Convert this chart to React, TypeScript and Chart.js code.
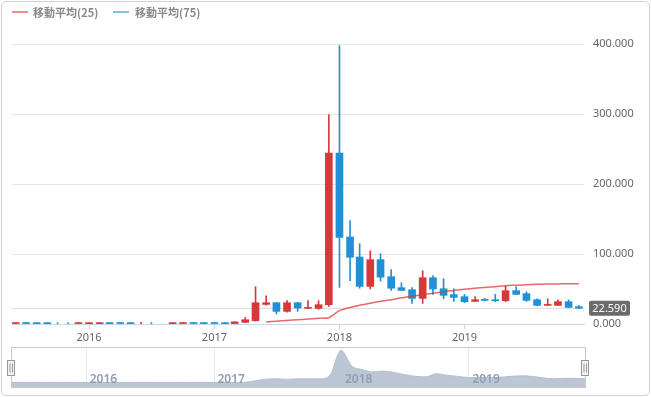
import React, { useEffect, useRef } from 'react';
import { Chart, registerables } from 'chart.js';

Chart.register(...registerables);

// ---- data (units shown with 3 decimals) ----
const months: string[] = [
  '2015-06', '2015-07', '2015-08', '2015-09', '2015-10', '2015-11', '2015-12',
  '2016-01', '2016-02', '2016-03', '2016-04', '2016-05', '2016-06',
  '2016-07', '2016-08', '2016-09', '2016-10', '2016-11', '2016-12',
  '2017-01', '2017-02', '2017-03', '2017-04', '2017-05', '2017-06',
  '2017-07', '2017-08', '2017-09', '2017-10', '2017-11', '2017-12',
  '2018-01', '2018-02', '2018-03', '2018-04', '2018-05', '2018-06',
  '2018-07', '2018-08', '2018-09', '2018-10', '2018-11', '2018-12',
  '2019-01', '2019-02', '2019-03', '2019-04', '2019-05', '2019-06',
  '2019-07', '2019-08', '2019-09', '2019-10', '2019-11', '2019-12',
];

const open: (number | null)[] = [
  0.6, 1.6, 1.5, 1.5, 1.0, 1.0, 0.6,
  0.5, 0.5, 1.6, 1.6, 1.5, 1.0,
  1.0, null, 0.5, 0.6, 1.6, 1.6,
  1.6, 1.5, 0.6, 2.3, 4.7, 28.0,
  30.4, 18.0, 30.4, 22.3, 22.3, 27.6,
  244.3, 124.3, 95.7, 53.7, 91.9, 67.6,
  51.9, 49.0, 36.6, 66.1, 50.4, 41.9,
  39.0, 32.3, 34.7, 34.7, 33.3, 47.6,
  43.3, 34.7, 26.6, 26.6, 31.9, 24.7,
];
const high: (number | null)[] = [
  1.8, 1.8, 1.7, 1.6, 1.4, 1.4, 1.8,
  1.7, 1.8, 1.8, 1.7, 1.6, 2.3,
  2.0, null, 1.8, 1.8, 1.8, 1.7,
  1.8, 1.7, 3.4, 9.4, 53.3, 40.4,
  30.9, 33.3, 31.0, 33.3, 33.3, 299.0,
  397.6, 147.6, 114.7, 104.7, 100.4, 77.6,
  59.0, 51.9, 76.1, 69.0, 64.7, 50.4,
  42.3, 39.0, 36.6, 42.3, 54.3, 53.3,
  46.1, 36.1, 36.1, 34.7, 34.7, 26.6,
];
const low: (number | null)[] = [
  0.5, 0.5, 0.4, 0.4, 0.4, 0.4, 0.5,
  0.4, 0.4, 0.4, 0.4, 0.4, 0.5,
  0.5, null, 0.4, 0.5, 0.5, 0.5,
  0.5, 0.4, 0.5, 2.0, 4.2, 27.0,
  14.3, 17.0, 18.0, 22.0, 20.9, 25.1,
  52.3, 61.9, 51.1, 50.0, 61.1, 48.0,
  47.6, 29.4, 29.4, 42.3, 36.1, 32.3,
  30.4, 32.0, 33.0, 31.9, 31.9, 41.9,
  32.3, 26.1, 26.1, 26.1, 23.3, 21.9,
];
const close: (number | null)[] = [
  1.6, 0.6, 0.5, 0.5, 0.98, 0.98, 1.6,
  1.5, 1.6, 0.5, 0.6, 0.5, 1.02,
  0.98, null, 1.6, 1.6, 0.6, 0.6,
  0.6, 0.5, 3.1, 6.1, 30.4, 30.4,
  18.0, 30.4, 22.9, 23.3, 27.6, 244.3,
  123.7, 95.4, 53.7, 91.9, 66.9, 51.1,
  48.0, 36.6, 66.1, 50.0, 40.9, 38.0,
  31.9, 34.7, 33.7, 33.3, 47.6, 42.3,
  33.7, 26.6, 28.0, 31.9, 23.7, 22.59,
];
const ma25: (number | null)[] = [
  null, null, null, null, null, null, null,
  null, null, null, null, null, null,
  null, null, null, null, null, null,
  null, null, null, null, null, 3.0,
  4.0, 5.0, 6.1, 7.1, 8.1, 9.0,
  19.0, 23.7, 26.9, 29.7, 32.6, 34.7,
  37.6, 39.7, 41.9, 44.0, 46.1, 48.0,
  49.7, 51.1, 52.3, 53.3, 54.7, 55.4,
  56.1, 56.7, 57.0, 57.3, 57.6, 57.6,
];
const ma75: (number | null)[] = [];
const navValues: number[] = [
  1, 1, 1, 1, 1, 1, 1,
  1, 1, 1, 1, 1, 1,
  1, 1, 1, 1, 1, 1,
  1, 1, 1, 2, 14, 27,
  29, 25.5, 29, 29, 29, 60,
  254, 130, 103, 84, 91, 80,
  64, 49, 45, 70, 57, 49,
  39.5, 39.5, 39.5, 41, 49, 52.7,
  49, 37, 29, 33, 33, 29,
];
const yTicks: number[] = [0, 100, 200, 300, 400];
const yearTicks: string[] = ['2016', '2017', '2018', '2019'];
const lastPrice = 22.59;
const legendLabels: string[] = ['移動平均(25)', '移動平均(75)'];

const UP = '#d9383a';
const DOWN = '#2191d6';
const FONT = "'Noto Sans', 'DejaVu Sans', sans-serif";

const day = (m: string) =>
  Date.UTC(Number(m.slice(0, 4)), Number(m.slice(5, 7)) - 1, 1) / 86400000;

export default function App() {
  const mainRef = useRef<HTMLCanvasElement>(null);
  const navRef = useRef<HTMLCanvasElement>(null);

  useEffect(() => {
    const xs = months.map(day);
    const idx = months.map((_, i) => i);
    const colorOf = (i: number) =>
      (close[i] as number) >= (open[i] as number) ? UP : DOWN;
    const bodyIdx = idx.filter(
      (i) => open[i] != null && close[i] != null &&
        Math.abs((close[i] as number) - (open[i] as number)) > 0.05,
    );
    const wickIdx = idx.filter((i) => high[i] != null && low[i] != null);
    const yearDays = yearTicks.map((y) => Date.UTC(Number(y), 0, 1) / 86400000);

    const pricePlugin = {
      id: 'priceLine',
      beforeDatasetsDraw(chart: any) {
        const { ctx, chartArea, scales } = chart;
        const py = Math.round(scales.y.getPixelForValue(lastPrice)) + 0.5;
        ctx.save();
        ctx.strokeStyle = '#dcdcdc';
        ctx.lineWidth = 1;
        ctx.beginPath();
        ctx.moveTo(chartArea.left, py);
        ctx.lineTo(chartArea.right, py);
        ctx.stroke();
        ctx.restore();
      },
      afterDraw(chart: any) {
        const { ctx, chartArea, scales } = chart;
        const py = scales.y.getPixelForValue(lastPrice);
        const bx = chartArea.right + 5;
        const bw = 41;
        const bh = 15;
        ctx.save();
        ctx.fillStyle = '#6b6b6b';
        ctx.beginPath();
        (ctx as any).roundRect(bx, py - bh / 2, bw, bh, 2);
        ctx.fill();
        ctx.fillStyle = '#ffffff';
        ctx.font = `11px ${FONT}`;
        ctx.textAlign = 'center';
        ctx.textBaseline = 'middle';
        ctx.fillText(lastPrice.toFixed(3), bx + bw / 2, py + 0.5);
        ctx.restore();
      },
    };

    const main = new Chart(mainRef.current as HTMLCanvasElement, {
      type: 'bar',
      data: {
        datasets: [
          {
            type: 'line',
            label: legendLabels[0],
            data: idx.map((i) => ({ x: xs[i], y: ma25[i] })),
            borderColor: 'rgba(217,56,58,0.75)',
            borderWidth: 1.5,
            pointRadius: 0,
            tension: 0.2,
            order: 0,
          } as any,
          {
            type: 'line',
            label: legendLabels[1],
            data: ma75.map((v, i) => ({ x: xs[i], y: v })),
            borderColor: DOWN,
            borderWidth: 1.5,
            pointRadius: 0,
            order: 0,
          } as any,
          {
            label: 'body',
            data: bodyIdx.map((i) => ({ x: xs[i], y: [open[i], close[i]] })),
            backgroundColor: bodyIdx.map(colorOf),
            barThickness: 7,
            minBarLength: 1,
            grouped: false,
            order: 1,
          } as any,
          {
            label: 'wick',
            data: wickIdx.map((i) => ({ x: xs[i], y: [low[i], high[i]] })),
            backgroundColor: wickIdx.map(colorOf),
            barThickness: 1,
            minBarLength: 1,
            grouped: false,
            order: 2,
          } as any,
        ],
      },
      options: {
        animation: false,
        responsive: false,
        maintainAspectRatio: false,
        layout: { padding: { top: 44, left: 12, right: 1, bottom: 53 } },
        plugins: { legend: { display: false }, tooltip: { enabled: false } },
        scales: {
          x: {
            type: 'linear',
            offset: false,
            min: xs[0] - 11,
            max: xs[xs.length - 1] + 15,
            afterBuildTicks: (scale: any) => {
              scale.ticks = yearDays.map((v) => ({ value: v }));
            },
            afterFit: (scale: any) => {
              scale.height = 20;
            },
            grid: {
              display: true,
              drawOnChartArea: false,
              drawTicks: true,
              tickLength: 5,
              color: '#ccd6eb',
              offset: false,
            },
            border: { display: true, color: '#ccd6eb' },
            ticks: {
              padding: 2,
              maxRotation: 0,
              autoSkip: false,
              color: '#666666',
              font: { family: FONT, size: 11 },
              callback: (v: any) => String(new Date(Number(v) * 86400000).getUTCFullYear()),
            },
          },
          y: {
            position: 'right',
            min: yTicks[0],
            max: yTicks[yTicks.length - 1],
            afterBuildTicks: (scale: any) => {
              scale.ticks = yTicks.map((v) => ({ value: v }));
            },
            afterFit: (scale: any) => {
              scale.width = 66;
            },
            grid: { color: '#e6e6e6', drawTicks: false },
            border: { display: false },
            ticks: {
              padding: 9,
              color: '#666666',
              font: { family: FONT, size: 11 },
              callback: (v: any) => Number(v).toFixed(3),
            },
          },
        },
      } as any,
      plugins: [pricePlugin],
    });

    const navPlugin = {
      id: 'navDecor',
      beforeDatasetsDraw(chart: any) {
        const { ctx, chartArea, scales } = chart;
        ctx.save();
        ctx.strokeStyle = '#e6e6e6';
        ctx.lineWidth = 1;
        yearDays.forEach((d) => {
          const px = Math.round(scales.x.getPixelForValue(d)) + 0.5;
          ctx.beginPath();
          ctx.moveTo(px, chartArea.top);
          ctx.lineTo(px, chartArea.bottom);
          ctx.stroke();
        });
        ctx.restore();
      },
      afterDatasetsDraw(chart: any) {
        const { ctx, chartArea, scales } = chart;
        ctx.save();
        ctx.fillStyle = '#909db2';
        ctx.font = `600 12px ${FONT}`;
        ctx.textAlign = 'left';
        ctx.textBaseline = 'alphabetic';
        yearDays.forEach((d, k) => {
          const px = scales.x.getPixelForValue(d);
          ctx.fillText(yearTicks[k], px + 4, chartArea.bottom - 4);
        });
        // outline
        ctx.strokeStyle = '#c8c8c8';
        ctx.lineWidth = 1;
        ctx.strokeRect(
          Math.round(chartArea.left) + 0.5,
          Math.round(chartArea.top) + 0.5,
          Math.round(chartArea.right - chartArea.left),
          Math.round(chartArea.bottom - chartArea.top),
        );
        // handles
        const cy = (chartArea.top + chartArea.bottom) / 2;
        [chartArea.left, chartArea.right].forEach((hx: number) => {
          const x0 = Math.round(hx - 4) + 0.5;
          const y0 = Math.round(cy - 7.5) + 0.5;
          ctx.fillStyle = '#f2f2f2';
          ctx.strokeStyle = '#999999';
          ctx.fillRect(x0, y0, 7, 15);
          ctx.strokeRect(x0, y0, 7, 15);
          ctx.beginPath();
          ctx.moveTo(x0 + 2.5 - 0.5 + 0.5, y0 + 3);
          ctx.lineTo(x0 + 2.5 - 0.5 + 0.5, y0 + 12);
          ctx.moveTo(x0 + 4.5 + 0.5, y0 + 3);
          ctx.lineTo(x0 + 4.5 + 0.5, y0 + 12);
          ctx.stroke();
        });
        ctx.restore();
      },
    };

    const nav = new Chart(navRef.current as HTMLCanvasElement, {
      type: 'line',
      data: {
        datasets: [
          {
            data: idx.map((i) => ({ x: xs[i], y: navValues[i] })),
            fill: 'start',
            backgroundColor: '#bcc6d5',
            borderColor: '#b4bfd0',
            borderWidth: 1,
            pointRadius: 0,
            cubicInterpolationMode: 'monotone',
          } as any,
        ],
      },
      options: {
        animation: false,
        responsive: false,
        maintainAspectRatio: false,
        layout: { padding: { left: 11, top: 347, right: 66, bottom: 10 } },
        plugins: { legend: { display: false }, tooltip: { enabled: false } },
        scales: {
          x: { type: 'linear', display: false, min: xs[0], max: xs[xs.length - 1] },
          y: { display: false, min: -35, max: 280 },
        },
      } as any,
      plugins: [navPlugin],
    });

    return () => {
      main.destroy();
      nav.destroy();
    };
  }, []);

  const legendText: React.CSSProperties = {
    position: 'absolute',
    top: 4,
    fontFamily: "'Noto Sans CJK JP', 'Noto Sans', sans-serif",
    fontSize: 11,
    fontWeight: 'bold',
    color: '#888888',
    lineHeight: '16px',
    whiteSpace: 'nowrap',
  };

  return (
    <div
      style={{
        position: 'fixed',
        left: 0,
        top: 0,
        width: 651,
        height: 397,
        background: '#ffffff',
        overflow: 'hidden',
      }}
    >
      <div
        style={{
          position: 'absolute',
          left: 1,
          top: 1,
          width: 647,
          height: 393,
          border: '1px solid #d2d2d2',
          borderRadius: 5,
        }}
      />
      <canvas ref={mainRef} width={651} height={397} style={{ position: 'absolute', left: 0, top: 0 }} />
      <canvas ref={navRef} width={651} height={397} style={{ position: 'absolute', left: 0, top: 0 }} />
      <div style={{ position: 'absolute', left: 12, top: 11, width: 16, height: 2, background: '#ec8f8f' }} />
      <div style={{ ...legendText, left: 33 }}>{legendLabels[0]}</div>
      <div style={{ position: 'absolute', left: 113, top: 11, width: 16, height: 2, background: '#80c0e8' }} />
      <div style={{ ...legendText, left: 135 }}>{legendLabels[1]}</div>
    </div>
  );
}
